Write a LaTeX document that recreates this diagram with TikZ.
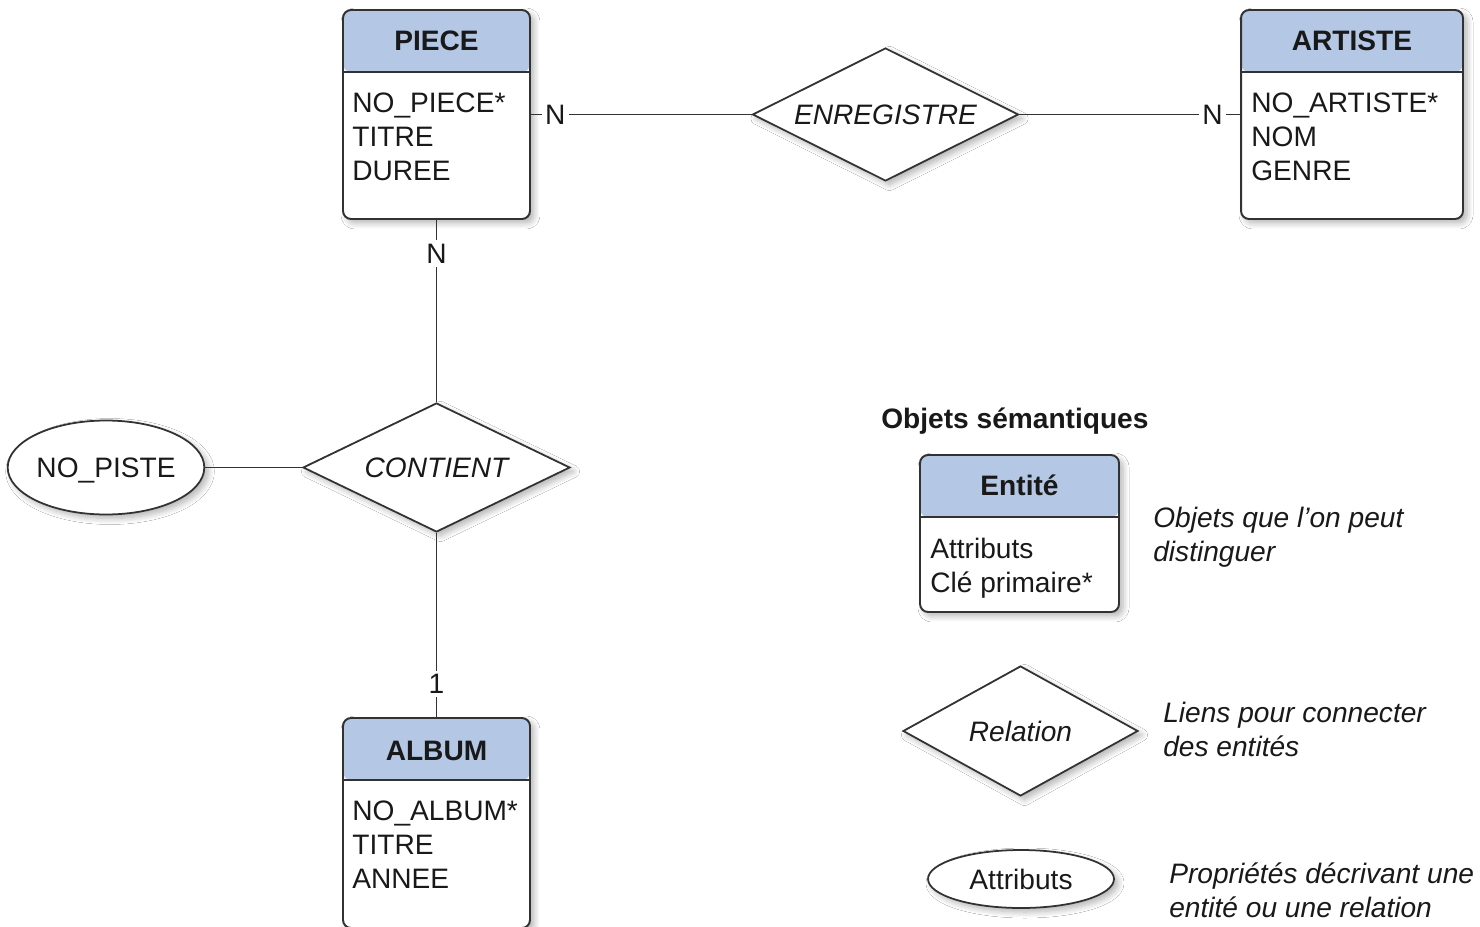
\documentclass[tikz,border=0pt]{standalone}
\usepackage{fontspec}
\setmainfont{Liberation Sans}
\usetikzlibrary{shapes.geometric,shadows.blur}
\definecolor{headblue}{RGB}{180,199,228}
\definecolor{linegray}{RGB}{50,50,50}
\definecolor{txtdark}{RGB}{25,25,25}
\newcommand{\erfont}{\fontsize{16}{19.35}\selectfont}

\tikzset{
  softshadow/.style={blur shadow={shadow xshift=0.8mm, shadow yshift=-0.8mm, shadow blur radius=1.2mm, shadow blur steps=8, shadow opacity=30}},
  entbox/.style={draw=linegray, line width=1.1pt, rounded corners=0.16cm, fill=white, softshadow, inner sep=0pt,
    path picture={
      \fill[headblue] (path picture bounding box.north west) rectangle ([yshift=-1.24cm]path picture bounding box.north east);
      \draw[linegray, line width=1.1pt] ([yshift=-1.24cm]path picture bounding box.north west) -- ([yshift=-1.24cm]path picture bounding box.north east);
    }},
  enttitle/.style={font=\erfont\bfseries, text=txtdark, anchor=base, inner sep=0pt},
  attrlist/.style={font=\erfont, text=txtdark, align=left, anchor=north west, inner sep=0pt},
  relation/.style={diamond, aspect=2, draw=linegray, line width=1pt, fill=white, softshadow, inner sep=0pt, font=\erfont\itshape, text=txtdark},
  attrib/.style={ellipse, draw=linegray, line width=1pt, fill=white, softshadow, inner sep=0pt, text depth=0pt, font=\erfont, text=txtdark},
  link/.style={draw=linegray, line width=1pt},
  card/.style={font=\erfont, text=txtdark, fill=white, inner sep=2pt},
  legendtext/.style={font=\erfont\itshape, text=txtdark, align=left, anchor=north west, inner sep=0pt},
}

\begin{document}
\begin{tikzpicture}[x=0.02cm, y=-0.02cm]
    \clip (0,0) rectangle (1480,926);
    \fill[white] (0,0) rectangle (1480,926);

    % Entities
    \node[entbox, minimum width=3.74cm, minimum height=4.18cm] (piece) at (436.5,114.5) {};
    \node[enttitle] (piecet) at (436.5,51) {PIECE};
    \node[attrlist] (piecea) at (352,93) {NO\_PIECE*\\TITRE\\DUREE};

    \node[entbox, minimum width=4.44cm, minimum height=4.18cm] (artiste) at (1352,114.5) {};
    \node[enttitle] (artistet) at (1352,51) {ARTISTE};
    \node[attrlist] (artistea) at (1251,93) {NO\_ARTISTE*\\NOM\\GENRE};

    \node[entbox, minimum width=3.74cm, minimum height=4.2cm] (album) at (436.5,823) {};
    \node[enttitle] (albumt) at (436.5,760) {ALBUM};
    \node[attrlist] (albuma) at (352,801) {NO\_ALBUM*\\TITRE\\ANNEE};

    % Relations and attribute
    \node[relation, minimum width=5.32cm, minimum height=2.66cm] (enr) at (885.5,114.5) {ENREGISTRE};
    \node[relation, minimum width=5.34cm, minimum height=2.58cm] (cont) at (436.5,467.5) {CONTIENT};
    \node[attrib, minimum width=3.76cm, minimum height=1.88cm] (piste) at (106,467.5) {NO\_PISTE};

    % Connectors with cardinalities
    \draw[link] (piece.east) -- node[card, pos=0.11] (npe) {N} (enr.west);
    \draw[link] (enr.east) -- node[card, pos=0.875] (nar) {N} (artiste.west);
    \draw[link] (piece.south) -- node[card, pos=0.185] (npc) {N} (cont.north);
    \draw[link] (cont.south) -- node[card, pos=0.82] (nal) {1} (album.north);
    \draw[link] (piste.east) -- (cont.west);

    % Legend
    \node[font=\erfont\bfseries, text=txtdark, anchor=base west, inner sep=0pt] (legend) at (881,428) {Objets sémantiques};

    \node[entbox, minimum width=3.98cm, minimum height=3.14cm] (ent) at (1019.5,533.5) {};
    \node[enttitle] (entt) at (1019.5,495) {Entité};
    \node[attrlist] (enta) at (930,538) {Attributs\\Clé primaire*};
    \node[legendtext] (dent) at (1153,507) {Objets que l'on peut\\distinguer};

    \node[relation, minimum width=4.7cm, minimum height=2.6cm] (rel) at (1020.5,731) {Relation};
    \node[legendtext] (drel) at (1163,702) {Liens pour connecter\\des entités};

    \node[attrib, minimum width=3.72cm, minimum height=1.16cm] (attr) at (1021,879) {Attributs};
    \node[legendtext] (dattr) at (1169,862) {Propriétés décrivant une\\entité ou une relation};
\end{tikzpicture}
\end{document}
